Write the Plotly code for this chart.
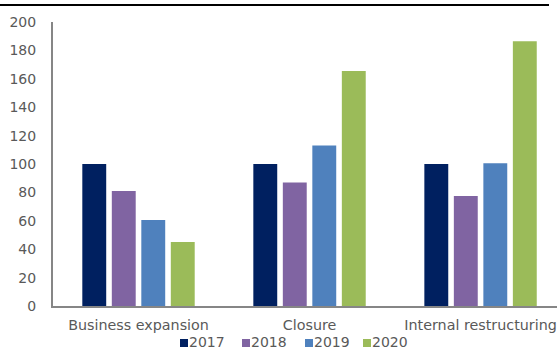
import plotly.graph_objects as go

categories = ["Business expansion", "Closure", "Internal restructuring"]
years = ["2017", "2018", "2019", "2020"]
values = {
    "2017": [100, 100, 100],
    "2018": [81, 87, 77.5],
    "2019": [60.5, 113, 100.5],
    "2020": [45, 165.5, 186.5],
}
colors = {"2017": "#002060", "2018": "#8064A2", "2019": "#4F81BD", "2020": "#9BBB59"}

W, H = 557, 350
l, r, t, b = 53, 0, 22, 44
PW, PH = W - l - r, H - t - b


def px(xp):
    return (xp - l) / PW


def py(yp):
    return (H - b - yp) / PH


fig = go.Figure()
for y in years:
    fig.add_trace(go.Bar(x=categories, y=values[y], name=y, marker_color=colors[y],
                         marker_line_width=0, showlegend=False))

# manual legend (squares + text)
leg_x = [180, 242, 305, 363]
shapes = [dict(type="line", xref="paper", yref="paper",
               x0=px(0), x1=px(549), y0=py(5), y1=py(5),
               line=dict(color="black", width=2))]
annotations = []
for i, y in enumerate(years):
    x0 = leg_x[i]
    shapes.append(dict(type="rect", xref="paper", yref="paper",
                       x0=px(x0), x1=px(x0 + 8), y0=py(347), y1=py(339),
                       fillcolor=colors[y], line=dict(width=0)))
    annotations.append(dict(xref="paper", yref="paper", x=px(x0 + 8), y=py(341.5),
                            text=y, showarrow=False, xanchor="left", yanchor="middle",
                            xshift=-1, font=dict(size=14, color="#595959")))

fig.update_layout(
    width=W, height=H,
    margin=dict(l=l, r=r, t=t, b=b, autoexpand=False),
    paper_bgcolor="white", plot_bgcolor="white",
    font=dict(family="DejaVu Sans", size=14, color="#595959"),
    barmode="group", bargap=0.31, bargroupgap=0.19,
    showlegend=False,
    xaxis=dict(range=[-0.5, 2.447], showline=True, linecolor="#868686", linewidth=2,
               ticks="", showgrid=False, automargin=False, ticklabelstandoff=5,
               tickfont=dict(size=14.3, color="#595959")),
    yaxis=dict(range=[0, 200], dtick=20, showline=True, linecolor="#868686", linewidth=2,
               ticks="", showgrid=False, zeroline=False, automargin=False,
               ticklabelstandoff=12, tickfont=dict(size=14, color="#595959")),
    shapes=shapes,
    annotations=annotations,
)
fig.write_html("out.html")
